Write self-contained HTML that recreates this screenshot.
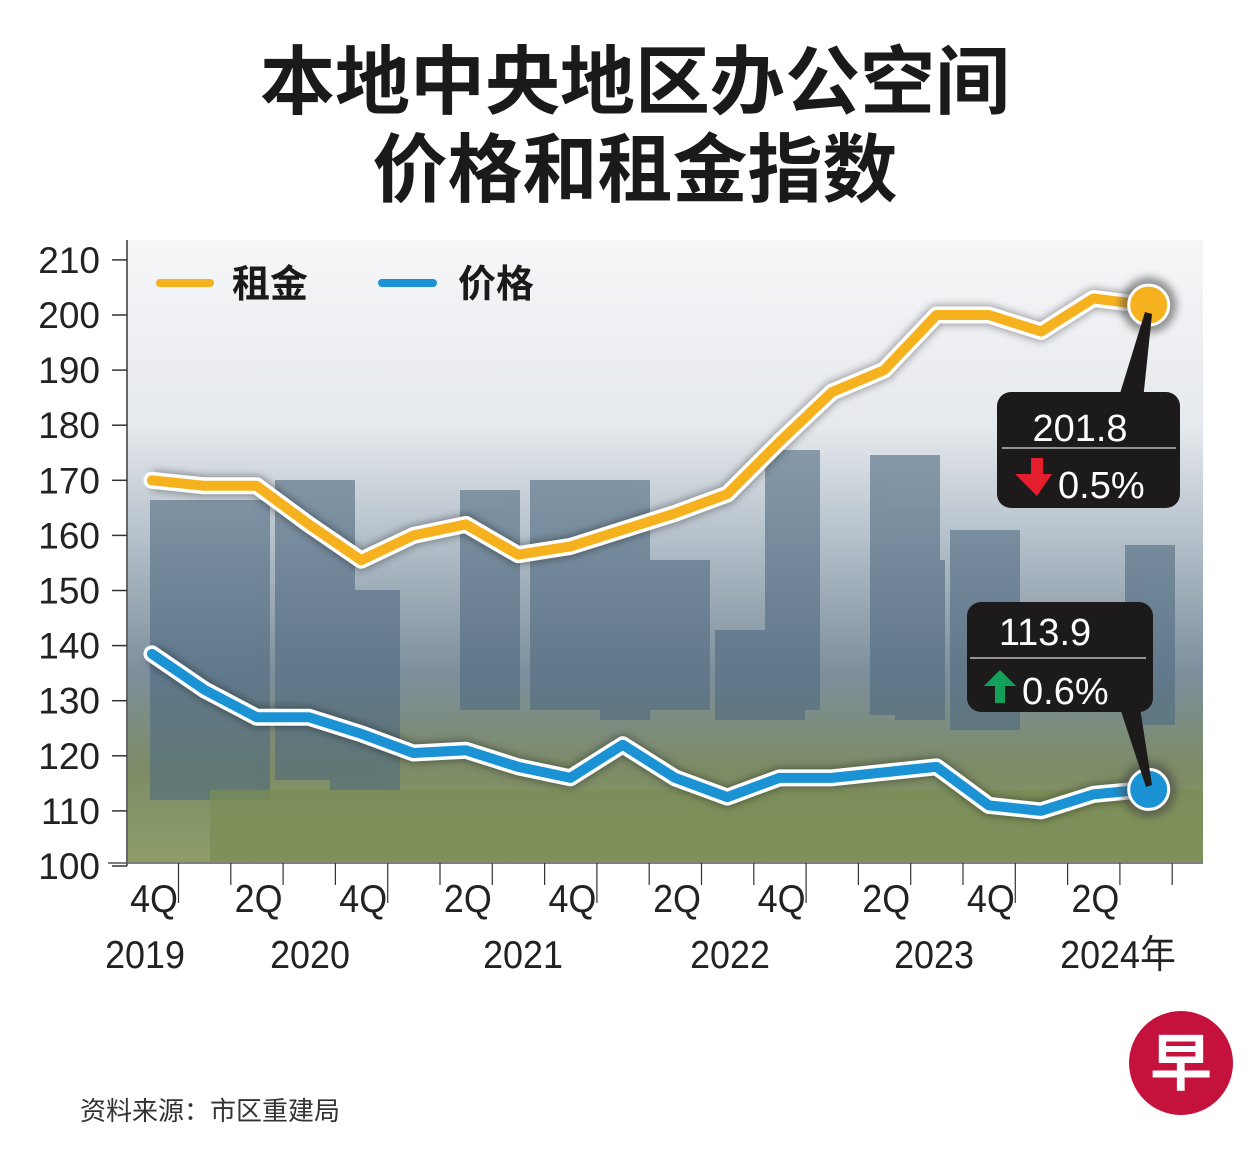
<!DOCTYPE html>
<html><head><meta charset="utf-8"><style>
html,body{margin:0;padding:0;background:#fff;width:1251px;height:1173px;overflow:hidden}
svg text{font-family:"Liberation Sans","Noto Sans CJK SC",sans-serif}
</style></head><body>
<svg id="chart" width="1251" height="1173" viewBox="0 0 1251 1173" xmlns="http://www.w3.org/2000/svg">
<defs>
<linearGradient id="bg" x1="0" y1="0" x2="0" y2="1">
<stop offset="0" stop-color="#f5f6f8"/><stop offset="0.3" stop-color="#e6e9ed"/><stop offset="0.48" stop-color="#b4c0ca"/><stop offset="0.7" stop-color="#7c8e9c"/><stop offset="0.85" stop-color="#7d8c66"/><stop offset="1" stop-color="#8e9d68"/>
</linearGradient>
<filter id="halo" x="-20%" y="-20%" width="140%" height="140%"><feGaussianBlur stdDeviation="4"/></filter>
</defs>
<g>
<text x="635" y="108" text-anchor="middle" font-size="75" font-weight="bold" fill="#1a1a1a">本地中央地区办公空间</text>
<text x="635" y="196" text-anchor="middle" font-size="75" font-weight="bold" fill="#1a1a1a">价格和租金指数</text>
</g>
<g>
<rect x="128" y="240" width="1075" height="622" fill="url(#bg)"/>
<g fill="#4f6a80" opacity="0.6">
<rect x="150" y="500" width="120" height="300"/><rect x="275" y="480" width="80" height="300"/><rect x="330" y="590" width="70" height="200"/>
<rect x="460" y="490" width="60" height="220"/><rect x="530" y="480" width="70" height="230"/><rect x="600" y="480" width="50" height="240"/>
<rect x="650" y="560" width="60" height="150"/><rect x="715" y="630" width="90" height="90"/><rect x="765" y="450" width="55" height="260"/>
<rect x="870" y="455" width="70" height="260"/><rect x="895" y="560" width="50" height="160"/><rect x="950" y="530" width="70" height="200"/><rect x="1125" y="545" width="50" height="180"/>
</g>
<rect x="210" y="790" width="993" height="72" fill="#7b8d55" opacity="0.75"/>
</g>
<g id="yaxis"></g>
<g id="xaxis"></g>
<g id="series"></g>
<g>
<line x1="160" y1="283" x2="210" y2="283" stroke="#f5b21e" stroke-width="8" stroke-linecap="round"/>
<text x="232" y="297" font-size="38" font-weight="bold" fill="#1a1a1a">租金</text>
<line x1="382" y1="283" x2="433" y2="283" stroke="#1a92d4" stroke-width="8" stroke-linecap="round"/>
<text x="458" y="297" font-size="38" font-weight="bold" fill="#1a1a1a">价格</text>
</g>
<g id="callouts">
<g>
<polygon points="1145,312 1152,314 1143,400 1118,400" fill="#1c1a1a"/>
<rect x="997" y="392" width="183" height="116" rx="14" fill="#1c1a1a"/>
<text x="1080" y="441" text-anchor="middle" font-size="38" fill="#fff">201.8</text>
<line x1="1002" y1="448" x2="1176" y2="448" stroke="#bbb" stroke-width="1.5"/>
<polygon points="1031,458 1043,458 1043,474 1052,474 1037,496 1015,474 1031,474" fill="#e41e2d"/>
<text x="1058" y="498" font-size="38" fill="#fff">0.5%</text>
</g>
<g>
<polygon points="1120,708 1140,708 1152,785 1146,787" fill="#1c1a1a"/>
<rect x="967" y="602" width="186" height="110" rx="14" fill="#1c1a1a"/>
<text x="1045" y="645" text-anchor="middle" font-size="38" fill="#fff">113.9</text>
<line x1="970" y1="658" x2="1146" y2="658" stroke="#bbb" stroke-width="1.5"/>
<polygon points="1000,670 1016,686 1005,686 1005,703 995,703 995,686 984,686" fill="#12a05a"/>
<text x="1022" y="704" font-size="38" fill="#fff">0.6%</text>
</g>
</g>
<g>
<text x="80" y="1120" font-size="26" fill="#333">资料来源：市区重建局</text>
</g>
<g>
<circle cx="1181" cy="1063" r="52" fill="#c4123c"/>
<text x="1181" y="1085" text-anchor="middle" font-size="62" font-weight="bold" fill="#fff">早</text>
</g>
</svg>
<script>
const quarters = ["4Q2019","1Q2020","2Q2020","3Q2020","4Q2020","1Q2021","2Q2021","3Q2021","4Q2021","1Q2022","2Q2022","3Q2022","4Q2022","1Q2023","2Q2023","3Q2023","4Q2023","1Q2024","2Q2024","3Q2024"];
const rentValues = [170,169,169,162,155.5,160,162,156.5,158,161,164,167.5,177,186,190,200,200,197,203,201.8];
const priceValues = [138.5,132,127,127,124,120.5,121,118,116,122,116,112.5,116,116,117,118,111,110,113,113.9];
const yTicks = [100,110,120,130,140,150,160,170,180,190,200,210];
const xQuarterLabels = ["4Q","2Q","4Q","2Q","4Q","2Q","4Q","2Q","4Q","2Q"];
const yearLabels = ["2019","2020","2021","2022","2023","2024年"];

const NS="http://www.w3.org/2000/svg";
const xScale=i=>152+52.3*i;
const yScale=v=>866-(v-100)*5.51;
function mk(tag,attrs,parent,before){const e=document.createElementNS(NS,tag);for(const k in attrs)e.setAttribute(k,attrs[k]);parent.appendChild(e);return e;}
const ya=document.getElementById('yaxis'),xa=document.getElementById('xaxis'),se=document.getElementById('series');
mk('line',{x1:127,y1:240,x2:127,y2:866,stroke:'#333','stroke-width':1.5},ya);
yTicks.forEach(v=>{
  const l=mk('line',{x1:112,y1:yScale(v),x2:127,y2:yScale(v),stroke:'#333','stroke-width':1.5},ya);
  
  
  const t=mk('text',{x:100,y:yScale(v)+13,'text-anchor':'end','font-size':37,fill:'#222'},ya);
  
  
  t.textContent=v;
});
mk('line',{x1:108,y1:863,x2:1203,y2:863,stroke:'#555','stroke-width':1.5},xa);
for(let i=0;i<20;i++){
  const x=xScale(i)+26.5;
  const l=mk('line',{x1:x,y1:863,x2:x,y2:(i%4==0)?903:885,stroke:'#333','stroke-width':1.2},xa);
  
  
}
xQuarterLabels.forEach((s,k)=>{
  const x=xScale(k*2)+2;
  const t=mk('text',{x:x,y:912,'text-anchor':'middle','font-size':39,fill:'#222',transform:`translate(${x},0) scale(0.92,1) translate(${-x},0)`},xa);
  
  
  t.textContent=s;
});
const yearX=[145,310,523,730,934,1118];
yearLabels.forEach((s,k)=>{
  const x=yearX[k];
  const t=mk('text',{x:x,y:968,'text-anchor':'middle','font-size':39,fill:'#222',transform:`translate(${x},0) scale(0.92,1) translate(${-x},0)`},xa);
  
  
  t.textContent=s;
});
function drawSeries(vals,color,name){
  const d=vals.map((v,i)=>(i?'L':'M')+xScale(i)+','+yScale(v)).join(' ');
  const sh=mk('path',{d:d,fill:'none',stroke:'#000','stroke-width':20,opacity:0.35,filter:'url(#halo)','stroke-linejoin':'round'},se);
  
  
  const w=mk('path',{d:d,fill:'none',stroke:'#fff','stroke-width':17,'stroke-linejoin':'round','stroke-linecap':'round'},se);
  
  
  const p=mk('path',{d:d,fill:'none',stroke:color,'stroke-width':10,'stroke-linejoin':'round','stroke-linecap':'round'},se);
  
  
  const n=vals.length-1;
  const h=mk('circle',{cx:xScale(n)+3,cy:yScale(vals[n]),r:28,fill:'#444',opacity:0.55,filter:'url(#halo)'},se);
  
  
  const c=mk('circle',{cx:xScale(n)+3,cy:yScale(vals[n]),r:20,fill:color,stroke:'#fff','stroke-width':3},se);
  
  
}
drawSeries(rentValues,'#f5b21e','rent');
drawSeries(priceValues,'#1a92d4','price');
</script>
</body></html>
